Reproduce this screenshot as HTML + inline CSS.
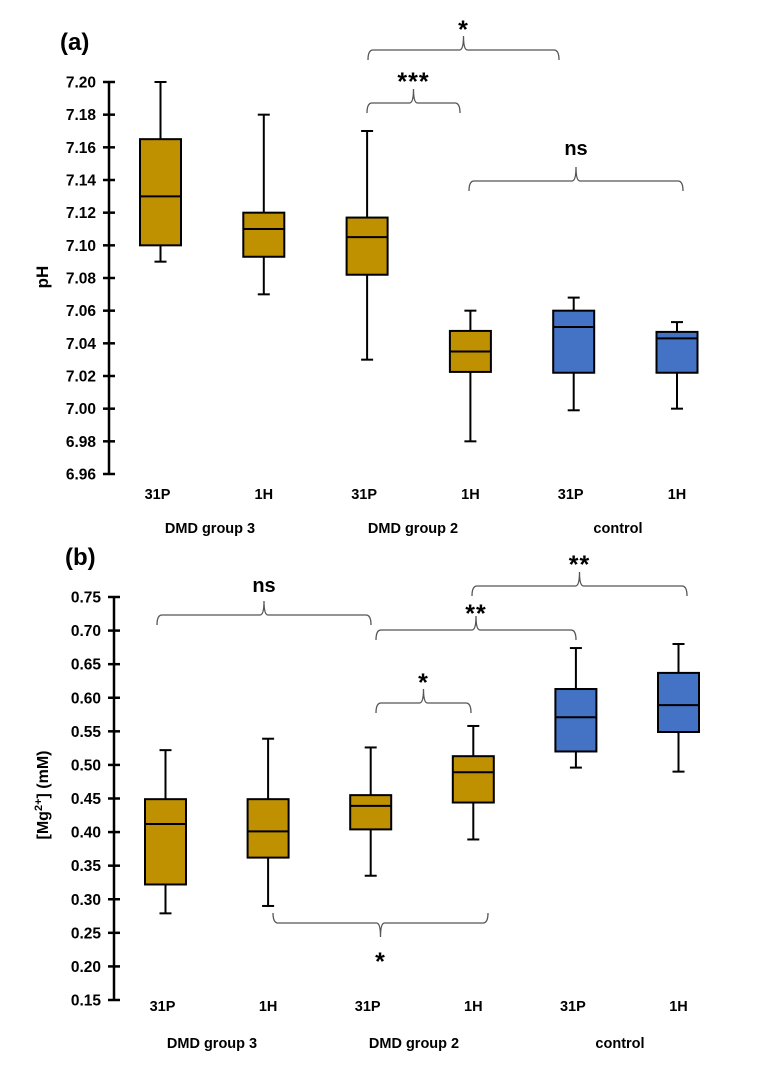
<!DOCTYPE html>
<html><head><meta charset="utf-8"><style>
html,body{margin:0;padding:0;background:#fff;}
svg{display:block;font-family:"Liberation Sans",Arial,sans-serif;}
</style></head><body>
<svg id="chart" width="772" height="1067" viewBox="0 0 772 1067"></svg>
<script>
// Panel (a) data
const catsA = ["31P","1H","31P","1H","31P","1H"];
const groupsA = ["DMD group 3","DMD group 2","control"];
const phMin = [7.09,7.07,7.03,6.98,6.999,7.0];
const phQ1 = [7.10,7.093,7.082,7.0225,7.022,7.022];
const phMed = [7.13,7.11,7.105,7.035,7.05,7.043];
const phQ3 = [7.165,7.12,7.117,7.0476,7.06,7.047];
const phMax = [7.20,7.18,7.17,7.06,7.068,7.053];
const phTicks = ["6.96","6.98","7.00","7.02","7.04","7.06","7.08","7.10","7.12","7.14","7.16","7.18","7.20"];
// Panel (b) data
const mgMin = [0.279,0.290,0.335,0.389,0.496,0.490];
const mgQ1 = [0.322,0.362,0.404,0.444,0.520,0.549];
const mgMed = [0.412,0.401,0.439,0.489,0.571,0.589];
const mgQ3 = [0.449,0.449,0.455,0.513,0.613,0.637];
const mgMax = [0.522,0.539,0.526,0.558,0.674,0.680];
const mgTicks = ["0.15","0.20","0.25","0.30","0.35","0.40","0.45","0.50","0.55","0.60","0.65","0.70","0.75"];
const colors = ["#BF9000","#BF9000","#BF9000","#BF9000","#4472C4","#4472C4"];

const NS="http://www.w3.org/2000/svg";
const svg=document.getElementById('chart');
function el(t,a,p){const e=document.createElementNS(NS,t);for(const k in a)e.setAttribute(k,a[k]);(p||svg).appendChild(e);return e;}
function txt(s,a,p){const e=el('text',a,p);e.textContent=s;return e;}

function panel(cfg){
  const g=el('g',{});
  
  
  const y=v=>cfg.y0+(cfg.vmax-v)/(cfg.vmax-cfg.vmin)*(cfg.y1-cfg.y0);
  const x=i=>cfg.x0+i*cfg.dx;
  const ax=el('line',{x1:cfg.ax,x2:cfg.ax,y1:y(cfg.vmax),y2:y(cfg.vmin),stroke:'#000','stroke-width':2.5},g);
  
  
  cfg.ticks.forEach(t=>{
    const v=parseFloat(t);
    el('line',{x1:cfg.ax-6,x2:cfg.ax+6,y1:y(v),y2:y(v),stroke:'#000','stroke-width':2.5},g);
    const l=txt(t,{x:cfg.ax-13,y:y(v)+5.5,'text-anchor':'end','font-size':15.5,'font-weight':'bold'},g);
    
    
  });
  for(let i=0;i<6;i++){
    const bg=el('g',{},g);
    
    
    const cx=x(i),w=20.5;
    el('line',{x1:cx,x2:cx,y1:y(cfg.max[i]),y2:y(cfg.q3[i]),stroke:'#000','stroke-width':2},bg);
    el('line',{x1:cx,x2:cx,y1:y(cfg.q1[i]),y2:y(cfg.min[i]),stroke:'#000','stroke-width':2},bg);
    el('line',{x1:cx-6,x2:cx+6,y1:y(cfg.max[i]),y2:y(cfg.max[i]),stroke:'#000','stroke-width':2},bg);
    el('line',{x1:cx-6,x2:cx+6,y1:y(cfg.min[i]),y2:y(cfg.min[i]),stroke:'#000','stroke-width':2},bg);
    el('rect',{x:cx-w,y:y(cfg.q3[i]),width:2*w,height:y(cfg.q1[i])-y(cfg.q3[i]),fill:colors[i],stroke:'#000','stroke-width':2},bg);
    el('line',{x1:cx-w,x2:cx+w,y1:y(cfg.med[i]),y2:y(cfg.med[i]),stroke:'#000','stroke-width':2},bg);
    const l=txt(catsA[i],{x:cx-(i%2==0?3:0),y:cfg.labY,'text-anchor':'middle','font-size':14.5,'font-weight':'bold'},g);
    
    
  }
  groupsA.forEach((s,j)=>{
    const l=txt(s,{x:cfg.gx[j],y:cfg.gY,'text-anchor':'middle','font-size':14.5,'font-weight':'bold'},g);
    
    
  });
  const t=txt(cfg.title,{transform:`translate(${cfg.tx},${cfg.ty}) rotate(-90)`,'text-anchor':'middle','font-size':17,'font-weight':'bold'},g);
  
  
  const p=txt(cfg.plabel,{x:cfg.px,y:cfg.py,'font-size':24,'font-weight':'bold'},g);
  
  
  return g;
}

function bracket(x1,x2,yl,label,ly,flip){
  const g=el('g',{});
  
  
  const s=flip?-1:1, xm=(x1+x2)/2;
  const d=`M${x1},${yl+10*s} Q${x1},${yl} ${x1+5},${yl} L${xm-4},${yl} Q${xm},${yl} ${xm},${yl-14*s} Q${xm},${yl} ${xm+4},${yl} L${x2-5},${yl} Q${x2},${yl} ${x2},${yl+10*s}`;
  el('path',{d:d,fill:'none',stroke:'#555','stroke-width':1.3},g);
  const star=label.startsWith('*');
  const fs=star?25:20;
  const tt=txt(label,{x:xm,y:star?ly+8:ly,'text-anchor':'middle','font-size':fs,'font-weight':'bold','letter-spacing':star?1:0},g);
  
  
}

panel({name:'panel-a-ph',y0:82,y1:474,vmax:7.20,vmin:6.96,ax:109,x0:160.5,dx:103.3,
  min:phMin,q1:phQ1,med:phMed,q3:phQ3,max:phMax,ticks:phTicks,labY:499,gY:533,gx:[210,413,618],
  title:'pH',tx:48,ty:277,plabel:'(a)',px:60,py:50});
panel({name:'panel-b-mg',y0:597,y1:1000,vmax:0.75,vmin:0.15,ax:114,x0:165.5,dx:102.6,
  min:mgMin,q1:mgQ1,med:mgMed,q3:mgQ3,max:mgMax,ticks:mgTicks,labY:1011,gY:1048,gx:[212,414,620],
  title:'',tx:48,ty:795,plabel:'(b)',px:65,py:565});
const mt=el('text',{transform:'translate(48,795) rotate(-90)','text-anchor':'middle','font-size':16,'font-weight':'bold'});


mt.innerHTML='[Mg<tspan dy="-6" font-size="11">2+</tspan><tspan dy="6">] (mM)</tspan>';

bracket(368,559,50,'*',30);
bracket(367,460,103,'***',82);
bracket(469,683,181,'ns',155);
bracket(157,371,615,'ns',592);
bracket(472,687,586,'**',565);
bracket(376,576,630,'**',614);
bracket(376,471,703,'*',683);
bracket(273,488,923,'*',962,true);
</script>
</body></html>
